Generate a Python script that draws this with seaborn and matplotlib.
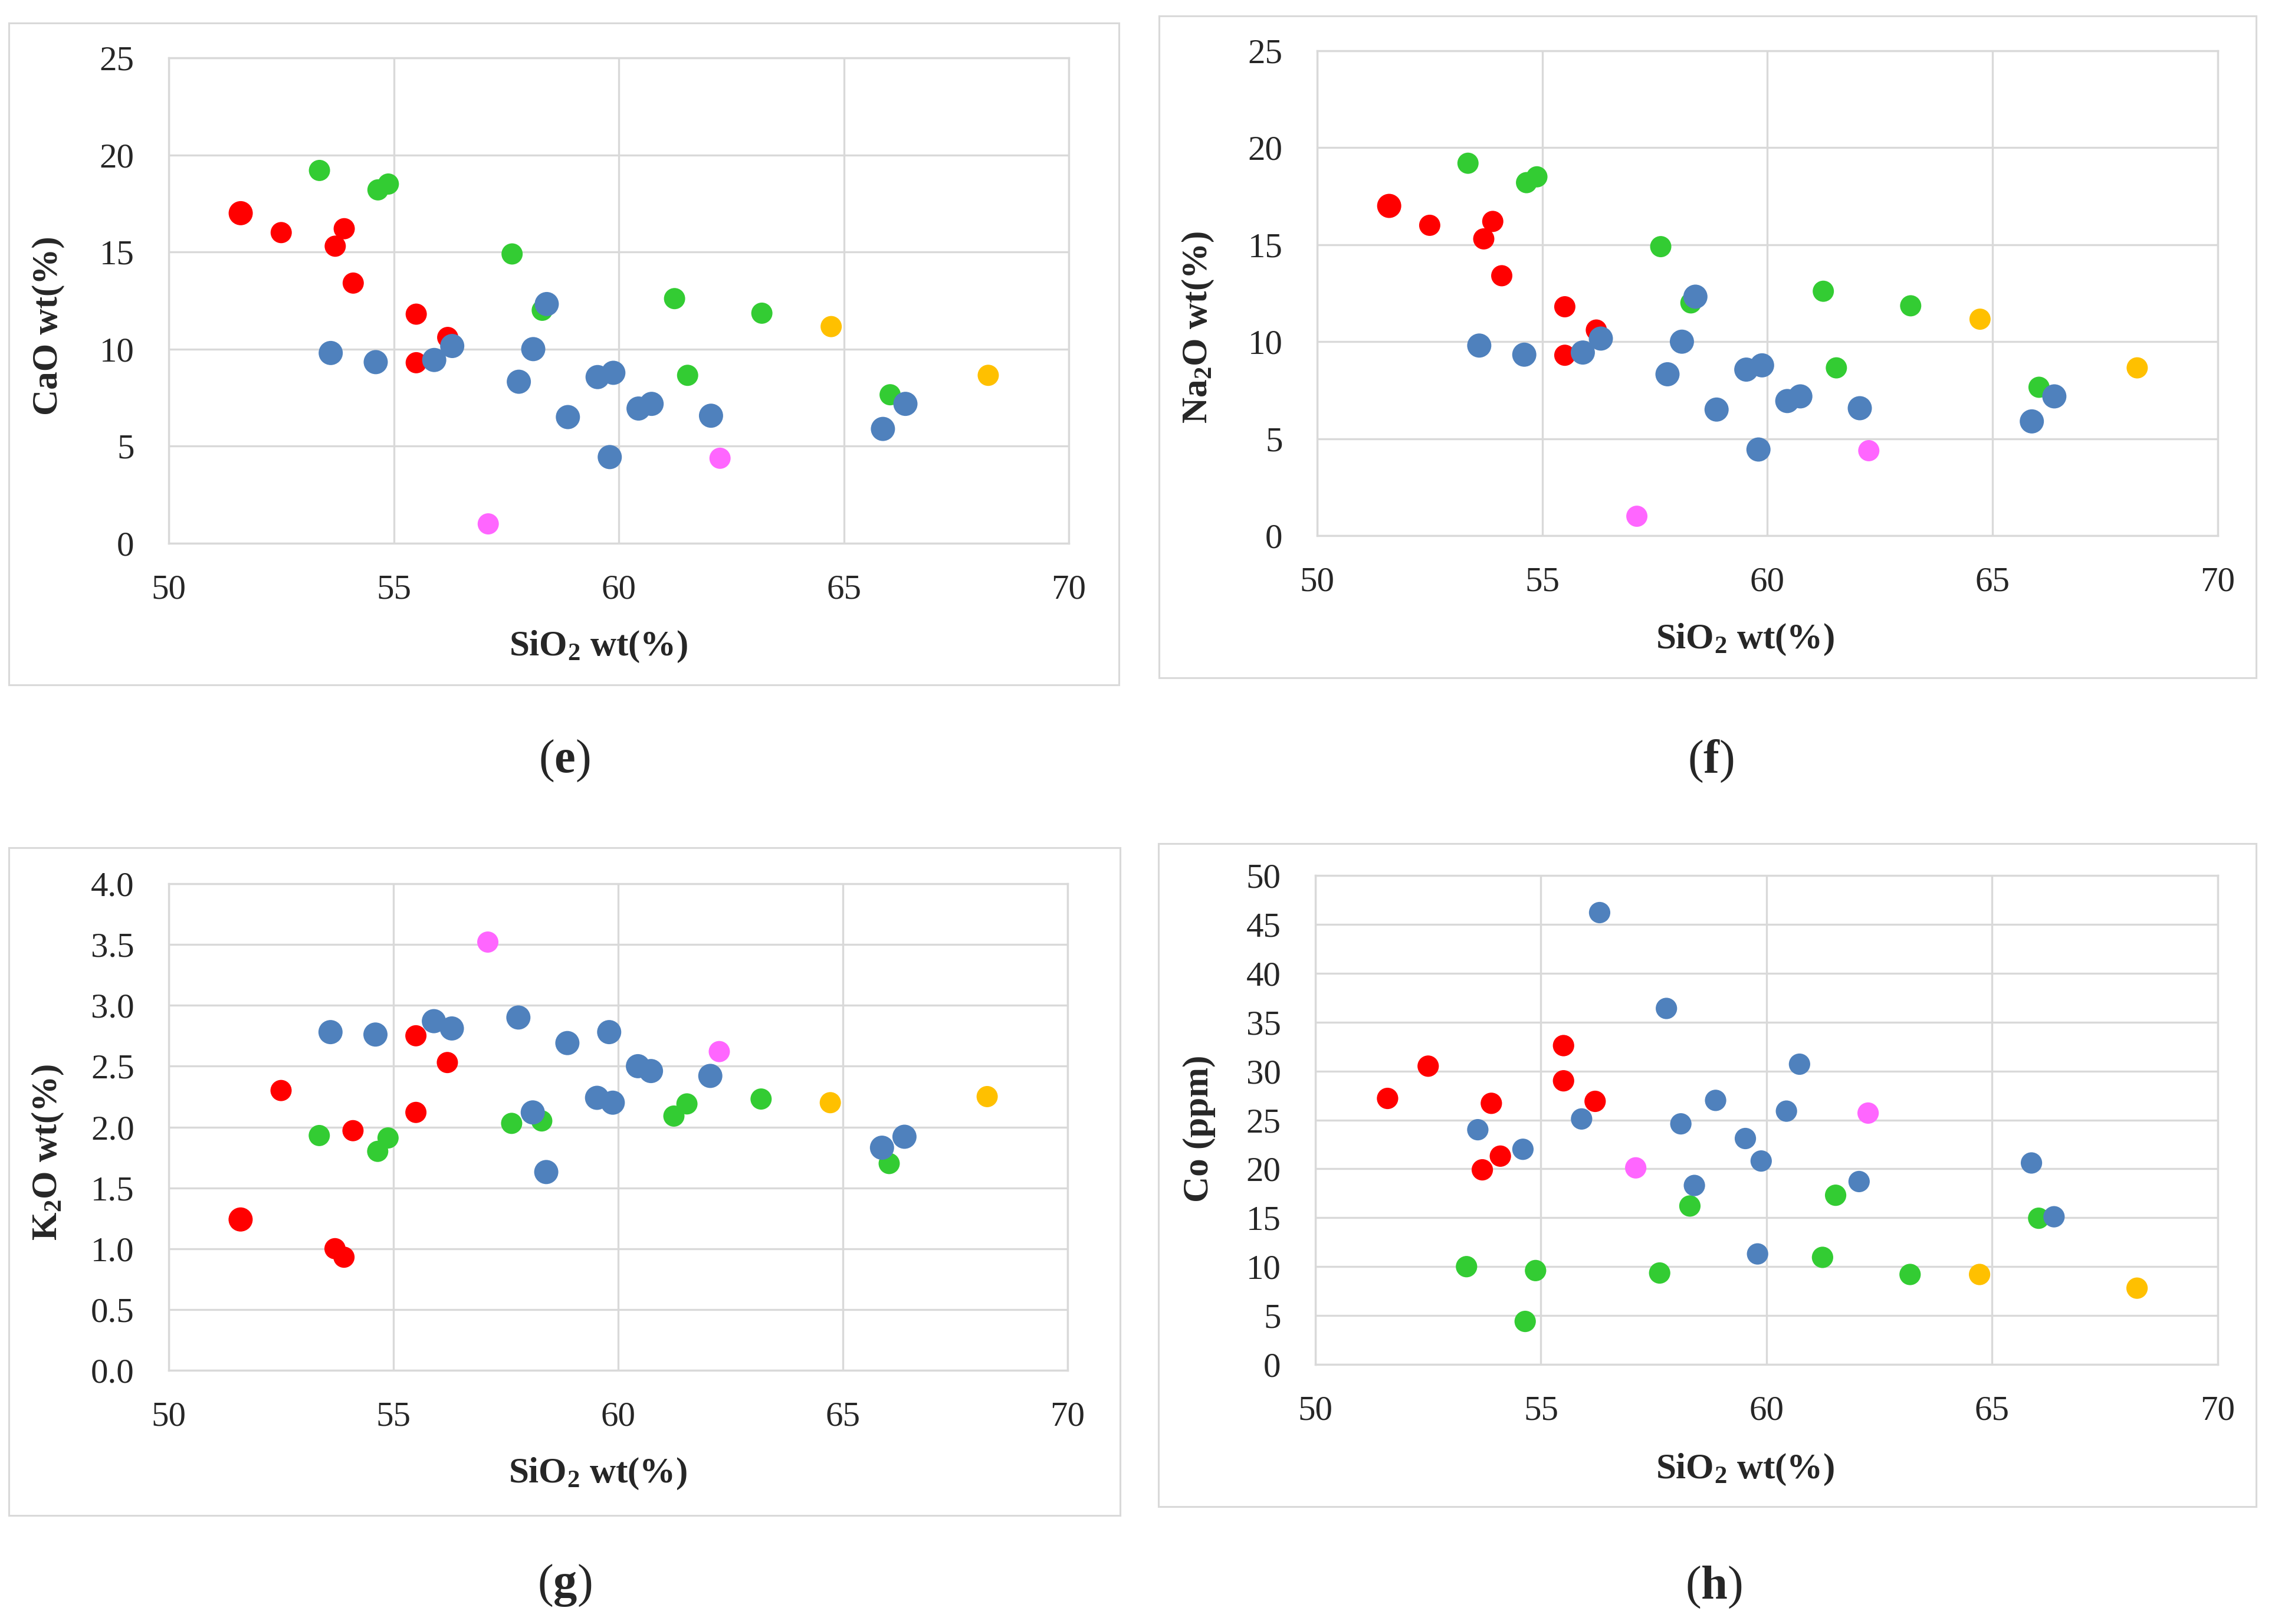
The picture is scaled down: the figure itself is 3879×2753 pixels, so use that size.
import matplotlib
matplotlib.use("Agg")
import matplotlib.pyplot as plt
import seaborn as sns
import pandas as pd
from matplotlib.patches import Rectangle

# --- data (SiO2 shared per sample) ---
red_sio2 = [51.6, 52.5, 53.7, 53.9, 54.1, 55.5, 55.5, 56.2]
red_cao = [17.0, 16.0, 15.3, 16.2, 13.4, 11.8, 9.3, 10.6]
red_na2o = [17.0, 16.0, 15.3, 16.2, 13.4, 11.8, 9.3, 10.6]
red_k2o = [1.24, 2.30, 1.00, 0.93, 1.97, 2.75, 2.12, 2.53]
red_co = [27.2, 30.5, 19.9, 26.7, 21.3, 32.6, 29.0, 26.9]

green_sio2 = [53.35, 54.65, 54.88, 57.63, 58.3, 61.24, 61.53, 63.18, 66.03]
green_cao = [19.2, 18.2, 18.5, 14.9, 12.0, 12.6, 8.65, 11.85, 7.65]
green_na2o = [19.2, 18.2, 18.5, 14.9, 12.0, 12.6, 8.65, 11.85, 7.65]
green_k2o = [1.93, 1.80, 1.91, 2.03, 2.05, 2.09, 2.19, 2.23, 1.70]
green_co = [10.0, 4.4, 9.6, 9.35, 16.2, 10.95, 17.3, 9.2, 14.95]

blue_sio2 = [53.6, 54.6, 55.9, 56.3, 57.78, 58.1, 58.4, 58.87, 59.53, 59.88,
             59.8, 60.44, 60.73, 62.05, 65.87, 66.37]
blue_cao = [9.8, 9.33, 9.44, 10.16, 8.32, 10.0, 12.32, 6.5, 8.56, 8.78,
            4.44, 6.94, 7.18, 6.57, 5.89, 7.18]
blue_na2o = [9.8, 9.33, 9.44, 10.16, 8.32, 10.0, 12.32, 6.5, 8.56, 8.78,
             4.44, 6.94, 7.18, 6.57, 5.89, 7.18]
blue_k2o = [2.78, 2.76, 2.87, 2.81, 2.90, 2.12, 1.63, 2.69, 2.24, 2.20,
            2.78, 2.50, 2.46, 2.42, 1.83, 1.92]
blue_co = [24.0, 22.0, 25.1, 46.2, 36.4, 24.6, 18.3, 27.0, 23.1, 20.8,
           11.3, 25.9, 30.7, 18.7, 20.6, 15.1]

magenta_sio2 = [57.1, 62.25]
magenta_cao = [1.0, 4.38]
magenta_na2o = [1.0, 4.38]
magenta_k2o = [3.52, 2.62]
magenta_co = [20.1, 25.7]

orange_sio2 = [64.72, 68.21]
orange_cao = [11.16, 8.65]
orange_na2o = [11.16, 8.65]
orange_k2o = [2.20, 2.25]
orange_co = [9.2, 7.8]

palette = {"red": "#ff0000", "green": "#33cc33", "blue": "#4f81bd",
           "magenta": "#ff66ff", "orange": "#ffc000"}

groups = [
    ("red", red_sio2, red_cao, red_na2o, red_k2o, red_co),
    ("green", green_sio2, green_cao, green_na2o, green_k2o, green_co),
    ("blue", blue_sio2, blue_cao, blue_na2o, blue_k2o, blue_co),
    ("magenta", magenta_sio2, magenta_cao, magenta_na2o, magenta_k2o, magenta_co),
    ("orange", orange_sio2, orange_cao, orange_na2o, orange_k2o, orange_co),
]
frames = []
for name, si, ca, na, k, co in groups:
    d = pd.DataFrame({"SiO2": si, "CaO": ca, "Na2O": na, "K2O": k, "Co": co})
    d["group"] = name
    d["mk"] = "big" if name == "blue" else "small"
    frames.append(d)
df = pd.concat(frames, ignore_index=True)
df.loc[0, "mk"] = "big"  # first red sample drawn larger

sns.set_style("white")
plt.rcParams["font.family"] = ["Liberation Serif", "DejaVu Serif"]
plt.rcParams["mathtext.fontset"] = "custom"
plt.rcParams["mathtext.rm"] = "Liberation Serif"
plt.rcParams["mathtext.bf"] = "Liberation Serif:bold"
plt.rcParams["mathtext.default"] = "regular"

W, H = 3880, 2753
fig = plt.figure(figsize=(W / 100, H / 100), dpi=100)

def px_rect(l, t, r, b):
    return [l / W, 1 - b / H, (r - l) / W, (b - t) / H]

panels = [
    dict(col="CaO", ylab="CaO wt(%)", yt=range(0, 26, 5), ylim=25, fmt="%d",
         ax=(286, 98, 1812, 921), box=(15, 39, 1897, 1161),
         ylc=(-0.134, 0.448), xlc=(0.477, -0.213), cap="e", capxy=(957, 1290), sizes=True),
    dict(col="Na2O", ylab="Na$_2$O wt(%)", yt=range(0, 26, 5), ylim=25, fmt="%d",
         ax=(2233, 86, 3760, 908), box=(1965, 27, 3825, 1149),
         ylc=(-0.132, 0.43), xlc=(0.475, -0.214), cap="f", capxy=(2900, 1290), sizes=True),
    dict(col="K2O", ylab="K$_2$O wt(%)", yt=[i * 0.5 for i in range(9)], ylim=4, fmt="%.1f",
         ax=(286, 1498, 1810, 2323), box=(15, 1437, 1899, 2569),
         ylc=(-0.134, 0.448), xlc=(0.477, -0.213), cap="g", capxy=(957, 2688), sizes=True),
    dict(col="Co", ylab="Co (ppm)", yt=range(0, 51, 5), ylim=50, fmt="%d",
         ax=(2230, 1484, 3760, 2313), box=(1964, 1430, 3825, 2554),
         ylc=(-0.129, 0.482), xlc=(0.476, -0.215), cap="h", capxy=(2905, 2691), sizes=False),
]

grid_c = "#d9d9d9"
for p in panels:
    l, t, r, b = p["box"]
    fig.patches.append(Rectangle((l / W, 1 - b / H), (r - l) / W, (b - t) / H,
                                 transform=fig.transFigure, fill=False,
                                 edgecolor=grid_c, linewidth=2.2))
    ax = fig.add_axes(px_rect(*p["ax"]))
    if p["sizes"]:
        sns.scatterplot(data=df, x="SiO2", y=p["col"], hue="group", palette=palette,
                        size="mk", sizes={"big": 870, "small": 670},
                        linewidth=0, legend=False, ax=ax)
    else:
        sns.scatterplot(data=df, x="SiO2", y=p["col"], hue="group", palette=palette,
                        s=680, linewidth=0, legend=False, ax=ax)
    ax.set_xlim(50, 70)
    ax.set_ylim(0, p["ylim"])
    ax.set_xticks(range(50, 71, 5))
    ax.set_yticks(list(p["yt"]))
    ax.yaxis.set_major_formatter(matplotlib.ticker.FormatStrFormatter(p["fmt"]))
    ax.grid(True, color=grid_c, linewidth=2.4)
    ax.set_axisbelow(True)
    for s in ax.spines.values():
        s.set_color(grid_c)
        s.set_linewidth(2.4)
    ax.tick_params(axis="x", length=0, pad=38, labelsize=42.5, colors="#262626")
    ax.tick_params(axis="y", length=0, pad=42, labelsize=42.5, colors="#262626")
    ax.set_xlabel("SiO$_2$ wt(%)", fontsize=44, fontweight="bold")
    ax.set_ylabel(p["ylab"], fontsize=44, fontweight="bold")
    ax.xaxis.set_label_coords(*p["xlc"])
    ax.yaxis.set_label_coords(*p["ylc"])
    ax.xaxis.label.set_va("center")
    ax.yaxis.label.set_va("center")
    cx, cy = p["capxy"]
    fig.text(cx / W, 1 - cy / H, "($\\mathbf{" + p["cap"] + "}$)", fontsize=58,
             ha="center", va="center")

fig.savefig("out.png", dpi=100, facecolor="white")
